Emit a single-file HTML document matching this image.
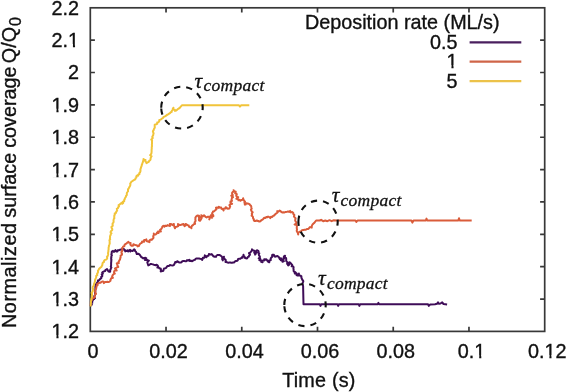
<!DOCTYPE html>
<html><head><meta charset="utf-8"><style>
html,body{margin:0;padding:0;background:#fff;}
svg{display:block;will-change:transform;}
text{font-family:"Liberation Sans",sans-serif;font-size:19.8px;fill:#111;stroke:#111;stroke-width:0.35px;}
</style></head><body>
<svg width="566" height="392" viewBox="0 0 566 392">
<defs><clipPath id="pc"><rect x="89.6" y="0" width="460" height="331"/></clipPath></defs>
<rect width="566" height="392" fill="#fff"/>

<rect x="90.3" y="7.8" width="454.4" height="323.6" fill="none" stroke="#383838" stroke-width="1.7"/>
<path d="M90.3,299.04h4.6M544.7,299.04h-4.6M90.3,266.68h4.6M544.7,266.68h-4.6M90.3,234.32h4.6M544.7,234.32h-4.6M90.3,201.96h4.6M544.7,201.96h-4.6M90.3,169.60h4.6M544.7,169.60h-4.6M90.3,137.24h4.6M544.7,137.24h-4.6M90.3,104.88h4.6M544.7,104.88h-4.6M90.3,72.52h4.6M544.7,72.52h-4.6M90.3,40.16h4.6M544.7,40.16h-4.6M166.03,331.4v-4.6M166.03,7.8v4.6M241.77,331.4v-4.6M241.77,7.8v4.6M317.50,331.4v-4.6M317.50,7.8v4.6M393.23,331.4v-4.6M393.23,7.8v4.6M468.97,331.4v-4.6M468.97,7.8v4.6" stroke="#383838" stroke-width="1.7" fill="none"/>
<g clip-path="url(#pc)" fill="none" stroke-width="2" stroke-linejoin="round" stroke-linecap="butt">
<path d="M90.4,306.0 L90.8,305.2 L91.8,304.6 L90.9,303.3 L92.3,302.9 L92.0,301.8 L92.5,301.0 L93.0,299.9 L93.7,299.0 L95.0,298.2 L94.2,297.0 L94.3,296.0 L95.0,295.1 L95.4,294.1 L95.0,293.0 L95.2,292.0 L95.4,291.1 L95.2,290.1 L95.4,289.2 L95.4,288.3 L95.4,287.4 L95.4,286.4 L95.5,285.5 L95.8,284.6 L96.2,283.8 L96.8,283.1 L97.3,282.3 L98.1,281.7 L97.9,280.5 L99.1,280.2 L99.7,279.5 L100.4,278.8 L101.3,278.2 L101.2,276.9 L102.2,276.4 L102.3,275.5 L101.7,274.3 L102.9,273.7 L102.2,272.5 L103.0,271.9 L104.1,271.3 L105.2,271.1 L105.4,270.0 L107.0,269.0 L108.0,270.6 L108.7,271.6 L109.9,271.9 L110.3,271.0 L110.1,270.0 L110.7,269.2 L110.9,268.3 L111.4,267.4 L110.8,266.4 L111.1,265.5 L111.1,264.6 L111.1,263.6 L111.1,262.7 L111.3,261.8 L111.2,260.8 L111.5,259.9 L111.1,259.0 L111.3,258.0 L111.4,257.1 L111.3,256.2 L111.9,255.2 L111.3,254.3 L111.7,253.4 L111.7,252.4 L111.8,251.5 L113.0,250.8 L113.9,252.0 L115.4,250.1 L116.2,251.5 L117.4,251.6 L117.7,250.2 L118.8,250.2 L120.0,249.8 L121.3,249.6 L122.5,248.9 L123.9,248.9 L124.0,249.9 L125.4,250.3 L125.2,251.5 L126.0,251.0 L127.0,250.8 L127.7,250.2 L128.1,251.6 L130.1,249.8 L130.3,251.5 L131.3,250.6 L132.6,251.0 L133.4,250.2 L134.1,249.2 L134.9,249.9 L135.0,251.0 L136.0,251.7 L136.3,252.7 L136.8,254.1 L138.1,253.7 L139.1,254.1 L139.9,255.0 L140.6,256.0 L141.2,257.0 L142.3,257.6 L143.3,258.4 L144.3,257.9 L145.4,257.7 L146.3,258.4 L145.0,260.0 L147.6,260.1 L148.9,260.6 L147.3,262.3 L147.6,263.3 L148.0,264.3 L148.3,265.4 L149.5,264.9 L150.4,264.0 L151.6,264.1 L152.8,264.4 L153.9,264.7 L154.8,264.9 L155.8,265.3 L156.7,264.7 L157.5,265.3 L158.0,266.0 L157.4,267.6 L158.9,267.6 L159.4,268.5 L160.7,268.6 L161.0,269.7 L160.7,271.4 L162.4,271.1 L163.4,270.7 L163.6,269.5 L164.0,268.5 L165.2,268.3 L166.2,267.9 L166.7,266.8 L167.6,266.1 L168.8,266.1 L169.8,265.1 L171.1,265.3 L172.3,265.4 L173.7,265.3 L174.4,264.0 L174.9,263.1 L175.2,262.0 L176.8,262.2 L177.2,261.2 L178.3,261.9 L179.4,262.6 L180.6,262.6 L181.6,262.3 L182.2,261.2 L183.2,261.1 L184.3,261.1 L185.3,261.2 L186.4,261.2 L187.1,260.1 L188.5,260.6 L189.3,259.8 L189.9,261.0 L191.1,260.8 L192.1,261.2 L193.0,260.6 L193.9,260.1 L194.9,259.8 L195.6,258.9 L196.6,258.4 L197.7,258.4 L198.9,258.4 L200.0,258.8 L201.3,258.9 L202.1,259.9 L202.6,259.0 L202.8,257.8 L204.2,257.8 L204.7,256.6 L204.8,255.3 L205.6,256.3 L206.4,257.3 L207.0,255.9 L208.5,255.7 L208.9,253.9 L210.6,254.6 L211.7,254.1 L212.5,255.1 L213.3,256.2 L214.8,256.7 L216.0,256.8 L216.4,255.7 L217.4,255.0 L218.6,255.1 L219.7,255.1 L220.7,255.7 L221.8,256.5 L222.3,257.8 L222.2,259.2 L222.8,260.4 L222.5,259.3 L223.9,258.7 L223.5,257.6 L223.9,256.7 L223.6,257.7 L224.4,258.5 L224.8,259.3 L225.8,260.0 L225.6,261.0 L225.5,262.0 L226.6,262.1 L227.6,262.6 L228.5,262.7 L229.4,262.6 L230.3,262.5 L231.2,262.7 L232.1,262.7 L233.0,262.6 L233.9,262.6 L234.5,261.9 L235.2,261.3 L236.1,261.0 L237.2,260.8 L237.8,260.2 L238.1,258.9 L239.2,258.8 L240.3,258.7 L241.2,257.9 L242.4,257.8 L242.3,256.6 L243.8,256.1 L243.5,254.8 L243.4,256.0 L244.6,256.7 L244.5,257.8 L245.4,258.0 L246.2,258.4 L247.2,258.3 L247.7,257.2 L248.8,256.7 L249.1,255.6 L250.0,254.7 L249.0,253.2 L250.4,252.5 L251.1,251.5 L251.9,250.6 L252.0,249.3 L252.6,250.1 L253.6,250.4 L254.7,251.2 L254.2,252.6 L255.2,253.4 L255.1,254.6 L255.7,253.8 L256.0,252.9 L256.0,251.9 L256.2,250.9 L257.0,250.3 L258.0,250.6 L258.6,251.4 L258.0,252.6 L259.3,253.3 L258.8,254.4 L259.0,255.4 L259.6,256.2 L260.0,257.1 L258.7,258.4 L260.3,259.0 L259.4,260.3 L262.0,260.6 L261.1,261.8 L262.6,262.3 L261.9,260.7 L264.2,260.6 L264.2,259.3 L265.2,259.7 L266.2,259.3 L267.1,260.2 L267.7,261.3 L268.5,261.8 L269.3,262.3 L269.1,260.6 L270.8,260.3 L270.7,259.3 L270.7,258.3 L271.4,257.5 L272.3,256.7 L272.1,255.6 L272.3,254.7 L273.9,254.7 L274.2,255.8 L274.9,256.7 L276.4,256.2 L277.5,256.0 L278.4,256.7 L279.2,257.4 L279.4,258.5 L280.0,259.3 L281.0,258.2 L281.5,259.0 L281.0,260.3 L282.6,260.7 L282.5,261.8 L283.9,261.1 L282.5,259.6 L283.9,258.9 L283.6,257.7 L284.0,256.4 L285.1,255.7 L284.7,257.3 L286.1,258.2 L286.2,259.2 L286.2,260.1 L286.2,261.1 L287.1,261.9 L287.5,262.8 L287.1,263.9 L288.6,264.0 L288.1,265.4 L289.2,264.6 L288.4,263.2 L289.2,262.3 L290.1,262.5 L290.7,263.3 L291.5,264.1 L292.2,264.9 L291.7,266.3 L293.2,266.4 L293.6,267.4 L293.4,268.4 L293.6,269.5 L293.6,270.5 L293.8,271.5 L295.3,272.1 L294.8,273.6 L296.3,273.0 L296.9,273.8 L296.5,274.9 L297.3,275.6 L298.8,275.2 L298.9,273.6 L298.9,275.2 L300.4,275.6 L301.4,276.4 L301.4,277.7 L301.9,278.7 L302.2,279.7 L303.1,280.5 L303.3,281.5 L302.7,282.7 L302.4,283.9 L302.8,284.9 L303.1,286.0 L303.5,304.2 L319.8,304.2 L320.5,305.9 L321.2,304.2 L337.5,304.2 L338.2,305.9 L338.9,304.2 L358.7,304.2 L359.4,305.9 L360.1,304.2 L377.8,304.2 L378.4,302.8 L379.0,304.2 L428.0,304.2 L428.8,305.9 L430.0,304.6 L435.0,304.2 L437.0,303.8 L438.0,302.4 L439.0,303.8 L440.5,303.5 L442.2,302.4 L443.5,304.0 L447.1,304.5" stroke="#3f0d58"/>
<path d="M90.5,306.0 L90.4,305.0 L90.5,304.0 L90.9,303.0 L90.6,302.0 L91.0,301.0 L91.5,300.2 L92.1,299.5 L92.0,297.8 L93.7,298.0 L94.8,297.0 L94.7,295.5 L95.1,294.5 L96.0,293.7 L95.4,292.5 L95.1,291.2 L95.5,290.0 L96.1,288.8 L96.3,287.5 L96.6,286.6 L96.7,285.7 L97.6,285.1 L97.3,283.9 L98.4,283.4 L99.3,282.7 L100.5,282.8 L101.3,282.0 L102.2,281.5 L103.2,281.4 L103.9,283.1 L105.0,282.0 L106.0,282.1 L107.3,281.7 L108.6,282.1 L109.6,281.5 L110.5,280.8 L110.5,279.8 L110.9,279.0 L111.3,278.2 L112.9,277.8 L112.1,276.6 L112.4,275.7 L112.9,274.9 L113.6,274.2 L114.8,273.7 L114.0,272.2 L114.2,271.3 L115.0,270.6 L116.7,270.4 L115.0,268.5 L116.1,268.0 L117.0,267.4 L118.3,267.0 L117.5,265.5 L117.3,264.5 L116.8,263.3 L118.8,263.1 L118.5,262.0 L118.9,261.2 L119.4,260.4 L120.0,259.5 L120.2,258.5 L120.5,257.6 L120.7,256.6 L120.6,255.6 L121.8,254.9 L122.1,254.0 L121.5,252.9 L121.4,252.0 L122.2,251.2 L122.0,250.2 L122.6,249.3 L122.1,248.1 L122.7,247.3 L123.3,246.4 L124.4,246.2 L124.5,245.1 L125.0,244.3 L125.8,243.8 L126.7,243.3 L127.5,242.5 L128.4,241.9 L129.0,242.8 L130.6,242.9 L130.3,244.5 L131.3,245.7 L133.0,245.8 L133.4,244.2 L134.4,244.7 L135.5,245.0 L136.9,245.3 L137.7,246.4 L138.8,246.1 L139.2,245.1 L139.8,244.2 L140.6,243.3 L141.8,242.8 L142.1,241.5 L144.0,241.8 L144.2,239.9 L145.4,240.0 L146.4,239.4 L146.4,241.0 L148.0,241.5 L149.5,242.1 L149.5,240.5 L150.4,239.6 L151.7,239.9 L152.3,238.9 L153.3,238.3 L153.5,237.4 L153.2,236.4 L153.6,235.5 L153.9,234.6 L153.8,233.6 L154.3,234.6 L155.4,234.6 L156.5,233.8 L157.0,232.5 L158.6,233.0 L158.1,231.5 L160.9,231.5 L160.1,229.8 L160.9,229.2 L161.6,228.5 L162.0,227.6 L162.3,226.7 L163.4,225.7 L164.4,226.7 L165.2,225.6 L166.5,226.1 L167.4,225.1 L168.6,225.6 L170.0,226.0 L169.8,224.1 L170.8,224.0 L171.6,224.4 L172.3,225.1 L173.0,224.4 L173.9,224.0 L173.8,225.2 L174.2,226.2 L174.6,227.3 L175.0,228.3 L175.3,227.0 L176.6,226.7 L178.2,226.1 L178.0,224.0 L179.8,225.1 L180.9,224.9 L181.9,224.5 L183.5,224.0 L183.9,225.1 L184.5,226.1 L185.7,225.4 L185.6,224.0 L186.7,224.5 L187.7,225.1 L188.7,225.5 L188.9,226.7 L189.8,227.2 L191.1,227.0 L191.4,228.3 L191.4,227.0 L191.9,225.9 L193.0,225.1 L193.7,224.3 L195.1,223.9 L194.6,222.4 L195.2,221.6 L195.6,220.8 L195.3,219.8 L195.5,218.9 L195.3,217.9 L195.7,217.1 L196.4,216.2 L197.3,215.5 L199.0,215.8 L198.8,217.1 L199.2,218.0 L198.9,219.2 L199.0,220.3 L200.0,220.8 L200.6,220.0 L201.1,219.1 L201.6,218.2 L200.7,217.0 L201.7,216.3 L201.3,215.2 L202.7,216.4 L204.0,215.2 L204.8,216.0 L205.5,216.8 L206.6,217.5 L207.6,216.7 L208.7,216.8 L209.9,217.9 L209.3,219.4 L209.7,218.4 L209.6,217.1 L210.5,216.3 L210.8,215.2 L211.4,216.0 L211.4,217.0 L211.9,217.8 L210.8,216.7 L213.4,216.2 L213.2,215.2 L212.3,214.2 L212.1,213.2 L212.8,212.4 L213.0,211.5 L214.1,211.3 L214.9,210.6 L215.6,209.9 L216.4,209.4 L216.0,207.8 L217.0,207.5 L218.7,207.9 L218.8,206.7 L219.6,207.5 L221.2,207.4 L221.5,208.8 L222.9,209.2 L223.6,210.4 L223.4,209.1 L224.1,208.5 L225.8,208.4 L225.7,207.2 L226.8,207.9 L227.8,208.8 L229.3,208.5 L229.9,207.2 L230.2,206.3 L229.4,205.2 L230.1,204.3 L232.1,203.8 L230.4,202.5 L230.5,201.5 L232.0,200.9 L231.5,199.8 L231.8,198.9 L231.9,197.9 L233.0,197.1 L231.3,195.7 L232.8,195.1 L232.1,193.9 L232.1,192.9 L232.7,192.0 L234.1,191.3 L233.6,190.2 L234.2,191.2 L235.7,191.8 L235.2,193.4 L236.4,193.4 L236.8,194.5 L236.2,195.7 L236.7,196.6 L238.2,197.2 L236.4,198.8 L238.3,199.3 L238.4,200.3 L239.6,199.8 L240.5,200.8 L241.1,200.1 L242.2,199.9 L243.2,199.6 L243.2,198.2 L242.8,199.3 L243.9,200.0 L244.2,200.9 L245.0,201.6 L244.4,202.8 L244.9,203.6 L244.8,204.6 L245.7,204.4 L246.2,203.2 L247.4,203.5 L248.5,203.8 L249.5,204.1 L250.1,205.1 L251.0,205.8 L251.3,206.8 L251.4,207.7 L251.7,208.6 L250.9,209.8 L251.4,210.6 L251.7,211.5 L252.7,212.3 L251.8,213.6 L252.1,214.5 L251.6,215.7 L252.8,216.5 L253.0,217.5 L253.1,218.5 L253.9,219.2 L253.8,220.2 L254.3,221.0 L255.6,221.0 L256.8,220.4 L257.6,220.9 L258.5,221.1 L259.3,221.6 L260.4,221.3 L261.1,220.4 L262.0,219.8 L262.9,219.3 L263.6,218.5 L264.3,217.7 L265.5,218.0 L266.2,217.0 L267.3,217.3 L268.1,216.6 L269.2,217.1 L270.3,218.1 L271.0,216.7 L272.3,216.9 L273.1,215.9 L274.1,215.5 L275.0,214.5 L276.0,213.6 L276.9,213.0 L277.6,212.3 L277.2,211.1 L278.6,211.5 L279.7,210.5 L280.6,211.0 L281.2,211.9 L282.1,212.4 L283.4,212.2 L284.6,212.4 L285.8,211.9 L287.1,211.7 L288.1,211.4 L289.0,211.9 L290.1,210.9 L290.8,212.4 L292.2,212.0 L293.3,213.0 L293.3,214.1 L294.4,215.0 L293.9,216.3 L294.5,217.3 L295.6,218.2 L295.3,219.4 L295.2,220.6 L295.7,221.6 L296.5,222.4 L296.4,223.3 L294.6,224.5 L296.7,225.1 L296.8,226.0 L296.9,226.9 L296.7,227.9 L296.9,228.8 L297.0,229.7 L296.7,230.8 L297.0,231.8 L298.0,232.6 L298.2,233.6 L298.2,234.6 L297.9,233.4 L298.4,232.6 L299.2,232.0 L300.1,231.5 L301.2,231.3 L301.9,230.3 L303.2,230.1 L304.4,229.7 L305.8,229.8 L306.9,229.0 L308.4,228.9 L309.3,227.8 L310.1,227.1 L311.7,227.6 L311.8,226.0 L312.2,225.0 L312.8,224.2 L313.5,223.5 L314.3,222.9 L316.1,220.5 L319.7,220.5 L321.1,219.8 L323.2,221.2 L325.3,220.5 L327.4,221.2 L329.5,220.2 L331.7,221.2 L333.8,220.2 L336.6,220.5 L355.5,220.5 L356.4,221.9 L357.5,220.5 L411.4,220.5 L412.4,222.6 L413.5,220.5 L425.8,220.5 L426.5,218.6 L427.2,220.5 L458.3,220.5 L459.0,218.2 L459.7,220.5 L471.7,220.5" stroke="#da5c3a"/>
<path d="M90.5,306.5 L90.6,305.6 L90.7,304.6 L90.8,303.7 L90.9,302.7 L90.9,301.8 L91.1,300.9 L91.3,299.9 L91.3,299.0 L91.6,298.0 L91.9,297.1 L91.8,296.0 L92.0,295.0 L92.1,294.0 L91.6,292.9 L92.3,292.0 L92.8,291.1 L92.9,290.0 L93.2,289.0 L92.6,287.9 L92.8,286.9 L93.4,285.9 L93.9,285.0 L94.0,284.0 L94.5,283.0 L94.7,282.0 L95.1,281.0 L95.0,279.9 L95.5,279.0 L95.9,278.0 L96.2,277.0 L96.2,275.9 L97.3,275.2 L97.0,274.0 L97.6,273.1 L98.1,272.1 L97.9,270.9 L98.5,270.0 L99.0,269.0 L99.7,268.3 L100.5,267.6 L101.3,266.9 L101.8,266.0 L102.3,265.2 L102.4,264.2 L102.6,263.2 L103.2,262.4 L104.1,261.8 L104.1,260.7 L104.9,259.9 L106.0,259.6 L106.9,259.0 L107.3,258.0 L106.9,256.9 L107.7,256.0 L108.0,255.0 L108.2,254.1 L108.0,253.1 L108.2,252.2 L108.4,251.3 L108.4,250.3 L108.6,249.4 L108.6,248.5 L108.6,247.5 L108.9,246.6 L108.9,245.7 L109.3,244.8 L109.5,244.0 L109.8,243.1 L109.6,242.2 L109.7,241.2 L109.4,240.3 L110.2,239.5 L109.9,238.5 L110.1,237.6 L110.0,236.7 L110.2,235.8 L110.7,235.0 L110.7,234.1 L111.5,233.3 L110.5,232.2 L110.9,231.3 L111.7,230.6 L112.3,229.8 L112.2,228.8 L111.5,227.7 L111.5,226.8 L112.5,226.1 L112.8,225.2 L112.5,224.3 L112.6,223.4 L113.4,222.6 L113.6,221.7 L113.5,220.8 L113.6,219.9 L113.8,219.0 L114.4,218.2 L114.2,217.2 L114.3,216.3 L114.3,215.4 L114.9,214.6 L114.7,213.4 L116.1,212.9 L116.1,211.8 L116.8,211.0 L117.2,210.1 L116.8,208.8 L117.9,208.2 L118.1,207.2 L119.0,206.5 L118.6,205.2 L119.6,204.6 L120.5,203.7 L121.4,202.9 L122.3,203.8 L123.1,203.1 L122.8,201.8 L124.2,201.4 L124.1,200.2 L124.7,199.4 L124.8,198.4 L125.4,197.5 L125.9,196.7 L126.1,195.7 L126.8,195.0 L126.8,193.9 L126.9,192.9 L127.3,192.1 L128.0,191.4 L128.0,190.4 L128.0,189.4 L128.6,188.6 L129.4,187.0 L130.0,185.9 L130.4,184.8 L130.2,183.5 L130.9,182.6 L131.4,181.6 L132.5,181.1 L133.3,180.4 L134.3,179.9 L135.3,179.4 L135.5,178.3 L136.4,177.5 L136.3,176.3 L136.9,175.5 L138.1,175.7 L138.4,174.4 L139.4,174.3 L139.3,173.2 L140.0,172.3 L140.4,171.3 L140.5,170.3 L140.4,169.2 L140.8,168.4 L141.0,167.5 L141.3,166.6 L141.7,165.8 L141.8,164.8 L142.2,164.0 L142.4,163.1 L142.9,162.1 L143.0,161.1 L143.5,160.1 L143.5,159.0 L144.4,159.7 L145.5,160.0 L145.2,161.2 L146.1,162.1 L146.5,163.1 L147.5,162.4 L148.6,162.0 L149.0,161.2 L149.6,160.5 L150.4,159.9 L150.6,159.0 L150.6,158.1 L151.0,157.2 L151.6,156.3 L150.2,155.2 L150.8,154.4 L151.4,153.5 L151.5,152.6 L151.6,151.7 L151.6,150.8 L151.6,149.9 L151.7,148.9 L151.8,148.0 L151.7,147.1 L152.0,146.2 L151.9,145.2 L151.9,144.3 L152.0,143.4 L152.0,142.5 L152.0,141.5 L152.1,140.6 L151.3,139.6 L152.2,138.8 L152.8,137.9 L152.2,136.9 L152.7,136.0 L153.2,135.2 L153.3,134.3 L153.6,133.4 L153.2,132.4 L152.9,131.2 L153.6,130.3 L153.8,129.3 L154.4,128.4 L154.8,127.4 L154.7,126.3 L154.7,124.7 L156.2,124.3 L157.2,123.9 L157.2,122.5 L158.3,122.2 L159.2,121.5 L159.2,120.2 L160.3,119.7 L161.1,119.3 L161.8,118.7 L162.9,118.2 L163.4,117.1 L164.4,116.6 L165.4,116.1 L166.4,115.4 L167.4,114.6 L168.4,114.3 L169.2,113.6 L170.0,113.1 L170.6,112.3 L171.6,112.0 L171.8,110.9 L172.7,110.0 L172.8,108.7 L173.4,107.7 L173.1,109.2 L174.8,109.7 L175.0,110.9 L176.2,110.6 L177.1,109.8 L177.8,109.1 L178.7,108.5 L179.7,108.0 L180.3,107.2 L182.1,105.2 L238.8,105.2 L240.0,106.6 L241.2,105.2 L249.3,105.2" stroke="#f1c43a"/>
</g>
<text x="79.1" y="338.3" text-anchor="end">1.2</text><text x="79.1" y="305.9" text-anchor="end">1.3</text><text x="79.1" y="273.6" text-anchor="end">1.4</text><text x="79.1" y="241.2" text-anchor="end">1.5</text><text x="79.1" y="208.9" text-anchor="end">1.6</text><text x="79.1" y="176.5" text-anchor="end">1.7</text><text x="79.1" y="144.1" text-anchor="end">1.8</text><text x="79.1" y="111.8" text-anchor="end">1.9</text><text x="79.1" y="79.4" text-anchor="end">2</text><text x="79.1" y="47.1" text-anchor="end">2.1</text><text x="79.1" y="14.7" text-anchor="end">2.2</text>
<text x="92.9" y="358.2" text-anchor="middle">0</text><text x="168.6" y="358.2" text-anchor="middle">0.02</text><text x="244.4" y="358.2" text-anchor="middle">0.04</text><text x="320.1" y="358.2" text-anchor="middle">0.06</text><text x="395.8" y="358.2" text-anchor="middle">0.08</text><text x="471.6" y="358.2" text-anchor="middle">0.1</text><text x="547.3" y="358.2" text-anchor="middle">0.12</text>
<text x="318.9" y="386.5" text-anchor="middle" style="letter-spacing:0.2px">Time (s)</text>
<text transform="translate(15.6,328) rotate(-90)"><tspan style="letter-spacing:0.55px">Normalized </tspan><tspan dx="-1.25">surface </tspan><tspan dx="-0.5">coverage </tspan><tspan dx="-2.3">Q/Q</tspan><tspan style="font-size:16px" dx="1" dy="5">0</tspan></text>
<text x="305" y="29.4">Deposition rate (ML/s)</text>
<text x="457.6" y="48.7" text-anchor="end">0.5</text>
<text x="457.6" y="68.3" text-anchor="end">1</text>
<text x="457.6" y="87.5" text-anchor="end">5</text>
<g fill="#fff"><rect x="51.68" y="335.20" width="4.75" height="4.4"/><rect x="58.53" y="335.20" width="4.40" height="4.4"/><rect x="51.68" y="302.80" width="4.75" height="4.4"/><rect x="58.53" y="302.80" width="4.40" height="4.4"/><rect x="51.68" y="270.50" width="4.75" height="4.4"/><rect x="58.53" y="270.50" width="4.40" height="4.4"/><rect x="51.68" y="238.10" width="4.75" height="4.4"/><rect x="58.53" y="238.10" width="4.40" height="4.4"/><rect x="51.68" y="205.80" width="4.75" height="4.4"/><rect x="58.53" y="205.80" width="4.40" height="4.4"/><rect x="51.68" y="173.40" width="4.75" height="4.4"/><rect x="58.53" y="173.40" width="4.40" height="4.4"/><rect x="51.68" y="141.00" width="4.75" height="4.4"/><rect x="58.53" y="141.00" width="4.40" height="4.4"/><rect x="51.68" y="108.70" width="4.75" height="4.4"/><rect x="58.53" y="108.70" width="4.40" height="4.4"/><rect x="68.19" y="44.00" width="4.75" height="4.4"/><rect x="75.04" y="44.00" width="4.40" height="4.4"/><rect x="474.45" y="355.10" width="4.75" height="4.4"/><rect x="481.30" y="355.10" width="4.40" height="4.4"/><rect x="544.64" y="355.10" width="4.75" height="4.4"/><rect x="551.49" y="355.10" width="4.40" height="4.4"/><rect x="446.69" y="65.20" width="4.75" height="4.4"/><rect x="453.54" y="65.20" width="4.40" height="4.4"/></g>
<path d="M469.6,42.3H521.3" stroke="#4a1f5e" stroke-width="2.2"/>
<path d="M469.6,61.7H521.3" stroke="#cf6548" stroke-width="2.2"/>
<path d="M469.6,81.1H521.3" stroke="#ecc24a" stroke-width="2.2"/>
<path d="M161.20,107.65A20.75,20.95 0 0 1 202.70,107.65A20.75,20.95 0 0 1 161.20,107.65" fill="none" stroke="#111" stroke-width="2.1" stroke-dasharray="6.2 6.1"/>
<path d="M298.40,221.70A19.65,21.1 0 0 1 337.70,221.70A19.65,21.1 0 0 1 298.40,221.70" fill="none" stroke="#111" stroke-width="2.1" stroke-dasharray="6.2 6.1"/>
<path d="M284.30,305.00A20.7,21.1 0 0 1 325.70,305.00A20.7,21.1 0 0 1 284.30,305.00" fill="none" stroke="#111" stroke-width="2.1" stroke-dasharray="6.2 6.1"/>
<text x="194.6" y="87.7" style="font-family:Liberation Serif,serif;font-style:italic;font-size:21.5px;stroke:#111;stroke-width:0.3px">τ</text><text x="203.5" y="91.1" style="font-family:Liberation Serif,serif;font-style:italic;font-size:17.5px;letter-spacing:0.25px;stroke:#111;stroke-width:0.3px">compact</text>
<text x="331.7" y="202.3" style="font-family:Liberation Serif,serif;font-style:italic;font-size:21.5px;stroke:#111;stroke-width:0.3px">τ</text><text x="340.6" y="205.7" style="font-family:Liberation Serif,serif;font-style:italic;font-size:17.5px;letter-spacing:0.25px;stroke:#111;stroke-width:0.3px">compact</text>
<text x="318.0" y="285.1" style="font-family:Liberation Serif,serif;font-style:italic;font-size:21.5px;stroke:#111;stroke-width:0.3px">τ</text><text x="326.9" y="288.5" style="font-family:Liberation Serif,serif;font-style:italic;font-size:17.5px;letter-spacing:0.25px;stroke:#111;stroke-width:0.3px">compact</text>
</svg>
</body></html>
